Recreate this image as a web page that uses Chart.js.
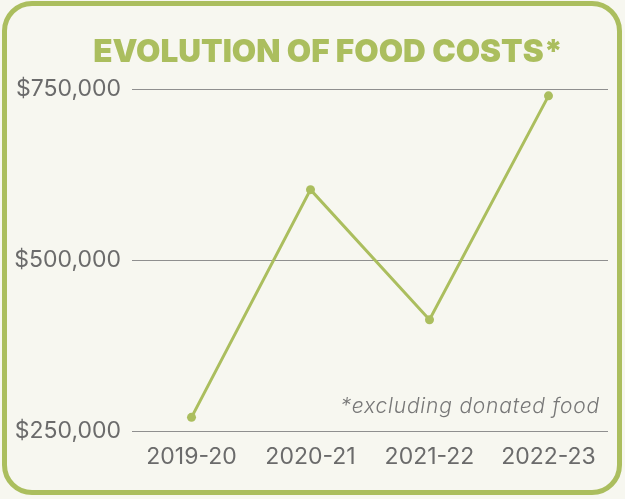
<!DOCTYPE html>
<html>
<head>
<meta charset="utf-8">
<script src="https://cdn.jsdelivr.net/npm/chart.js@4.4.1/dist/chart.umd.min.js"></script>
<style>
  html, body { margin: 0; padding: 0; background: #f7f7f0; }
  #wrap { position: relative; width: 625px; height: 499px; overflow: hidden; background: #f7f7f0; }
  #frame { position: absolute; left: 2px; top: 1px; width: 620px; height: 494px; box-sizing: border-box;
           border: 5px solid #abbe5e; border-radius: 30px; pointer-events: none; }
  #title { position: absolute; left: 0; width: 656px; top: 32px; text-align: center;
           font-family: Inter, sans-serif; font-weight: 900; font-size: 31.5px; line-height: 38px;
           color: #abbe5e; white-space: nowrap; }
  canvas { position: absolute; left: 0; top: 0; }
</style>
</head>
<body>
<div id="wrap">
  <canvas id="c" width="625" height="499"></canvas>
  <div id="title"></div>
  <div id="frame"></div>
</div>
<script>
const categories = ["2019-20", "2020-21", "2021-22", "2022-23"];
const foodCosts = [270500, 603000, 413000, 740000];
const yTicks = [250000, 500000, 750000];
const titleText = "EVOLUTION OF FOOD COSTS*";
const noteText = "*excluding donated food";

const green = "#abbe5e";
const textGray = "#6b6b6b";

document.getElementById("title").textContent = titleText;

const notePlugin = {
  id: "note",
  afterDatasetsDraw(chart) {
    const ctx = chart.ctx;
    ctx.save();
    ctx.font = "italic 300 21px Inter";
    ctx.letterSpacing = "0.8px";
    ctx.fillStyle = "#777777";
    ctx.textAlign = "right";
    ctx.textBaseline = "middle";
    ctx.fillText(noteText, 600, 407);
    ctx.restore();
  }
};

new Chart(document.getElementById("c"), {
  type: "line",
  data: {
    labels: categories,
    datasets: [{
      data: foodCosts,
      borderColor: green,
      backgroundColor: green,
      borderWidth: 3,
      pointRadius: 4.5,
      pointBackgroundColor: green,
      pointBorderWidth: 0,
      tension: 0,
      fill: false
    }]
  },
  plugins: [notePlugin],
  options: {
    responsive: false,
    animation: false,
    layout: { padding: { left: 10, right: 17, top: 89, bottom: 16 } },
    plugins: {
      legend: { display: false },
      tooltip: { enabled: false },
      title: { display: false }
    },
    scales: {
      x: {
        offset: true,
        grid: { display: false, drawTicks: false },
        border: { display: false },
        ticks: {
          color: textGray,
          font: { family: "Inter", size: 23 },
          padding: 12,
          maxRotation: 0
        }
      },
      y: {
        min: 250000,
        max: 750000,
        afterFit(scale) { scale.width = 122; },
        afterBuildTicks(scale) { scale.ticks = yTicks.map(v => ({ value: v })); },
        grid: { color: "#8f8f8f", lineWidth: 1, drawTicks: false },
        border: { display: false },
        ticks: {
          color: textGray,
          font: { family: "Inter", size: 23 },
          padding: 11,
          callback: v => "$" + v.toLocaleString("en-US")
        }
      }
    }
  }
});
</script>
</body>
</html>
